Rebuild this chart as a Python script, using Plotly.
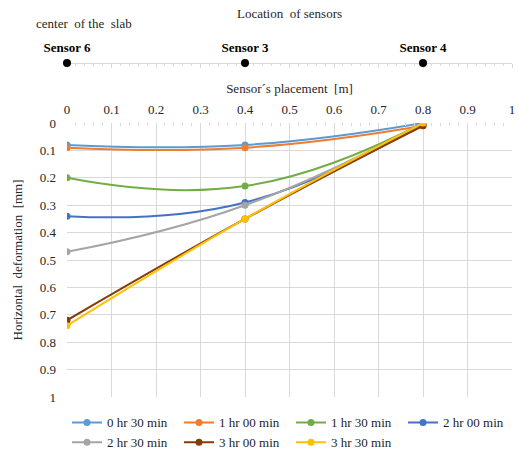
import plotly.graph_objects as go

# Sensor positions along the slab [m]
positions = [0.0, 0.4, 0.8]
sensor_names = ["Sensor 6", "Sensor 3", "Sensor 4"]

# Horizontal deformation [mm] at each sensor, per elapsed time
series_names = ["0 hr 30 min", "1 hr 00 min", "1 hr 30 min", "2 hr 00 min",
                "2 hr 30 min", "3 hr 00 min", "3 hr 30 min"]
deform_0h30 = [0.08, 0.08, 0.00]
deform_1h00 = [0.09, 0.09, 0.01]
deform_1h30 = [0.20, 0.23, 0.00]
deform_2h00 = [0.34, 0.29, 0.00]
deform_2h30 = [0.47, 0.30, 0.00]
deform_3h00 = [0.72, 0.35, 0.01]
deform_3h30 = [0.74, 0.35, 0.00]
series_values = [deform_0h30, deform_1h00, deform_1h30, deform_2h00,
                 deform_2h30, deform_3h00, deform_3h30]
colors = ["#5B9BD5", "#ED7D31", "#70AD47", "#4472C4",
          "#A5A5A5", "#843C0C", "#FFC000"]

FONT = "Liberation Serif, Times New Roman, serif"
TXT = "#262626"
GRID = "#d9d9d9"

fig = go.Figure()

for name, vals, col in zip(series_names, series_values, colors):
    fig.add_trace(go.Scatter(
        x=positions, y=vals, name=name, mode="lines+markers",
        line=dict(color=col, width=2, shape="spline", smoothing=1.3),
        marker=dict(color=col, size=7),
        xaxis="x", yaxis="y",
    ))

# Sensor location strip above the chart: dots on the line, names above them
fig.add_trace(go.Scatter(
    x=positions, y=[0, 0, 0], mode="markers",
    marker=dict(color="#000", size=8),
    showlegend=False, hoverinfo="skip", cliponaxis=False,
    xaxis="x2", yaxis="y2",
))
fig.add_trace(go.Scatter(
    x=positions, y=[0.45, 0.45, 0.45], mode="text",
    text=["<b>%s</b>" % s for s in sensor_names],
    textposition="top center",
    textfont=dict(family=FONT, size=13, color="#000"),
    showlegend=False, hoverinfo="skip", cliponaxis=False,
    xaxis="x2", yaxis="y2",
))

fig.update_layout(
    width=519, height=459,
    margin=dict(l=67, r=7, t=10, b=62, autoexpand=False),
    paper_bgcolor="white", plot_bgcolor="white",
    font=dict(family=FONT, size=13, color=TXT),
    xaxis=dict(
        domain=[0, 1], anchor="y", side="top",
        range=[0, 1], dtick=0.1, tick0=0,
        showgrid=True, gridcolor=GRID, gridwidth=1,
        zeroline=False, showline=False,
        ticks="", tickfont=dict(size=13, color=TXT), ticklabelstandoff=5,
        minor=dict(dtick=0.02, ticks="inside", ticklen=3, tickcolor=GRID, showgrid=False),
        title=dict(text="Sensor´s placement  [m]", font=dict(size=13, color=TXT), standoff=5),
    ),
    yaxis=dict(
        domain=[0, 0.708], anchor="x",
        range=[1, 0], dtick=0.1, tick0=0,
        showgrid=True, gridcolor=GRID, gridwidth=1,
        zeroline=False, showline=False, ticks="",
        tickfont=dict(size=13, color=TXT), ticklabelstandoff=10,
        title=dict(text="Horizontal  deformation  [mm]", font=dict(size=13, color=TXT), standoff=14),
    ),
    xaxis2=dict(
        domain=[0, 1], anchor="y2", range=[0, 1],
        showgrid=False, zeroline=False, showticklabels=False,
        showline=True, linecolor=GRID, linewidth=1, layer="below traces",
        ticks="outside", ticklen=4, tickcolor=GRID, dtick=0.1, tick0=0,
        minor=dict(dtick=0.02, ticks="outside", ticklen=2, tickcolor=GRID),
    ),
    yaxis2=dict(
        domain=[0.863, 0.908], anchor="x2", range=[0, 1],
        visible=False,
    ),
    legend=dict(
        orientation="h", x=0.0, xanchor="left", y=-0.027, yanchor="top",
        entrywidth=67, font=dict(size=13, color=TXT),
        itemwidth=30, tracegroupgap=0,
    ),
    annotations=[
        dict(text="Location  of sensors", xref="paper", yref="paper",
             x=0.5, y=1.015, xanchor="center", yanchor="top", showarrow=False,
             font=dict(size=13, color=TXT)),
        dict(text="center  of the  slab", xref="paper", yref="paper",
             x=-0.075, y=0.99, xanchor="left", yanchor="top", showarrow=False,
             font=dict(size=13, color=TXT)),
    ],
)

fig.write_html("out.html")
